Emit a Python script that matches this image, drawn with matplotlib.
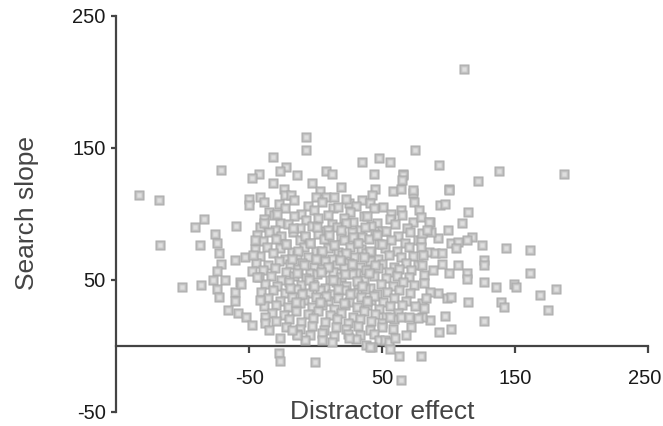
import matplotlib
matplotlib.use("Agg")
import matplotlib.pyplot as plt
import matplotlib.transforms as mtransforms

# ---------------- data ----------------
# dense core, row by row
core_x = [
    -28, -16, -6, 5, 13, 23, 30, 41, 51,
    -35, -23, -11, -1, 9, 17, 26, 36, 44, 57, 64,
    -39, -27, -16, -7, 2, 12, 21, 28, 39, 46, 56, 65, 73,
    -42, -31, -21, -12, -3, 6, 16, 23, 33, 42, 50, 60, 69,
    -44, -35, -26, -17, -8, 2, 9, 19, 27, 35, 45, 53, 62, 71,
    -40, -30, -22, -12, -4, 6, 14, 21, 31, 40, 48, 57, 67, 77,
    -46, -37, -27, -18, -9, 0, 9, 17, 26, 34, 42, 52, 61, 70,
    -42, -32, -23, -14, -6, 4, 12, 20, 29, 38, 47, 55, 64, 73,
    -45, -36, -28, -19, -10, -1, 7, 16, 25, 33, 41, 50, 59, 68, 77,
    -40, -31, -22, -13, -4, 5, 13, 21, 30, 38, 47, 55, 63, 72,
    -43, -34, -26, -16, -7, 1, 11, 19, 27, 36, 44, 53, 61, 70,
    -38, -29, -20, -11, -2, 7, 15, 23, 32, 41, 49, 58, 66, 74,
    -41, -32, -23, -15, -5, 3, 12, 21, 29, 37, 46, 54, 63, 71,
    -36, -27, -18, -9, 0, 9, 17, 25, 34, 42, 51, 59, 68,
    -39, -30, -21, -12, -3, 5, 14, 22, 31, 39, 48, 56, 65,
    -33, -24, -15, -6, 2, 11, 19, 28, 36, 45, 53, 62,
    -30, -20, -11, -2, 7, 16, 24, 33, 42, 50, 59,
    -22, -12, -3, 6, 15, 23, 32, 41, 50, 58,
    -14, -4, 5, 14, 24, 33, 44,
    -8, 12, 30, 48,
    -17, 1, 19, 37, -8, 10, 28, 46, -22, -4, 14, 32, 50, -13, 5, 23, 41,
    -18, 0, 18, 36, -9, 9, 27, 45, -14, 4, 22, 40,
    -5, 13, 31, -19, -1, 17, 35, -10, 8, 26, 44, -15, 3, 21, 39,
]
core_y = [
    107, 110, 106, 109, 104, 111, 106, 108, 105,
    101, 104, 100, 103, 99, 105, 101, 98, 104, 100, 103,
    96, 93, 98, 95, 97, 92, 97, 94, 98, 93, 96, 99, 94,
    90, 88, 92, 89, 91, 87, 90, 93, 88, 91, 87, 92, 89,
    84, 86, 83, 86, 82, 85, 88, 83, 86, 82, 85, 87, 83, 86,
    79, 81, 77, 80, 78, 81, 76, 80, 78, 81, 77, 80, 78, 80,
    73, 75, 74, 71, 75, 72, 74, 71, 75, 73, 71, 74, 72, 75,
    68, 70, 66, 69, 67, 70, 66, 69, 67, 70, 66, 69, 67, 68,
    63, 61, 64, 62, 63, 60, 64, 61, 63, 60, 64, 62, 60, 63, 61,
    57, 59, 56, 58, 55, 58, 56, 59, 55, 57, 59, 56, 58, 57,
    52, 53, 50, 53, 51, 54, 50, 52, 54, 50, 53, 51, 53, 52,
    47, 45, 48, 46, 47, 44, 48, 45, 47, 44, 47, 45, 48, 46,
    41, 42, 40, 43, 40, 42, 39, 42, 40, 43, 39, 41, 42, 40,
    36, 34, 37, 35, 37, 34, 36, 33, 37, 35, 33, 36, 34,
    30, 31, 29, 32, 29, 31, 28, 31, 29, 31, 28, 30, 31,
    25, 23, 26, 24, 26, 23, 25, 22, 26, 24, 22, 25,
    19, 20, 18, 21, 18, 20, 17, 20, 19, 17, 20,
    14, 13, 15, 12, 14, 13, 15, 12, 14, 13,
    9, 8, 10, 7, 9, 8, 9,
    4, 3, 5, 4,
    89, 90, 88, 90, 83, 84, 82, 84, 77, 78, 76, 78, 77, 72, 72, 70, 72,
    66, 66, 65, 67, 61, 60, 62, 61, 55, 56, 54, 55,
    50, 50, 49, 44, 45, 43, 45, 39, 38, 39, 38, 33, 33, 32, 34,
]

# scattered points around the core
outer_x = [
    112, 74.5, 48, 56, 93, 44, 66, 138, 187, 122, 100, 45, 58, 64.5, 73,
    -7, -7, -32, -71, 35, -22, -27, -14, -43, -48, 8, 12, -32, -2.5, 19,
    -24, 3.6, -133, -118, -50, -42, -23, -18.5, 0, 7.6, 13.6, 35, 42.6,
    -50, -38.7, 25,
    -84, -91, -117, -87.5, -76, -74.4, -73, -60, -71, -74, -77, -68, -86,
    -101, -74, -73, -61, -61, -66, -58.5, -52.5, -48, -57, -56, -61, -53,
    -47, -48, -44, -42, -38, -38, -35, -27, -28, -26.6, -0.4, -14, -18, 5,
    25, 37.5, 42.6, -46, -39, -31.7, -29,
    115, 110.5, 99.7, 93.6, 97, 86, 118, 114, 125, 143, 161, 101.7, 107,
    106, 92.4, 127, 127, 107, 100.4, 114, 114, 161, 127, 136, 149.5, 151,
    181, 169, 175, 139.4, 141.5, 115, 127, 97, 102, 92.6, 86, 80, 77, 63,
    79, 64.5, 52, 55, 56, 41, 99, 92, 102, 80, 81.5, 81.5, 81.5, 80, 85,
    90, 95, 95, 79, 79, 81, 74, 73.5, 100, 56, 64, 70,
    66, 65, 78, 79, 85, 87, 80, 84, 88, 86, 75, 83, 72, 68, 60,
]
outer_y = [
    210, 148.5, 142, 139, 137, 130, 130, 132, 130, 125, 119, 118.5, 117, 119, 115.5,
    158, 148.5, 143, 133, 139, 135, 132, 129, 130, 127, 132, 130, 123.5, 123.5, 120.5,
    119, 117, 114, 110, 111, 113, 114, 114, 113, 113, 113, 110, 114,
    106.6, 109, 108,
    96, 90, 76, 76, 84.6, 78, 70, 91, 62, 56.4, 50, 50, 46,
    44.7, 43, 36.7, 41, 33.6, 27, 25, 21.5, 15.5, 48.5, 47, 65, 67.4,
    68.7, 56.6, 52.3, 34.6, 22, 17, 12, 5.6, -5.8, -11.4, -12.3, 8, 12, 4.3,
    5.6, 0.5, -0.8, 80, 92.7, 99, 100,
    101, 92.7, 87.7, 106.6, 107.3, 94, 82.6, 80, 76.3, 74.2, 72.5, 77.6, 78.8,
    73.8, 81.4, 65, 61, 61, 54.8, 54.8, 50.3, 54.8, 48.5, 44.7, 46.5, 44.7,
    43.2, 38.4, 27, 33.3, 29, 33.3, 18.7, 22.5, 12.4, 10.6, 19.5, 22, 20.8, -7.6,
    -7.6, -26, 4.3, 3, -2.7, -0.8, 36, 39.7, 36.7, 32, 28.3, 53.6, 47.3, 61, 71,
    70, 70, 62, 80, 75, 69, 109, 118, 118, 22, 22, 22,
    129, 125.5, 102.8, 97.7, 94, 86.4, 85.2, 88, 57, 41, 30, 36, 14, 8, 6,
]

distractor_effect = outer_x[:48] + core_x + outer_x[48:]
search_slope = outer_y[:48] + core_y + outer_y[48:]

x_ticks = [-50, 50, 150, 250]
y_ticks = [-50, 50, 150, 250]

# ---------------- figure ----------------
plt.rcParams['font.family'] = ['Liberation Sans', 'DejaVu Sans']
fig = plt.figure(figsize=(6.63, 4.26), dpi=100)
ax = fig.add_axes([116.5 / 663, 1 - 411.7 / 426, 531.2 / 663, 396 / 426])
ax.set_xlim(-150, 250)
ax.set_ylim(-50, 250)

# bevelled grey square markers: layered squares per point
layers = [(7.4, '#ababab'), (5.6, '#bbbbbb'), (3.9, '#cccccc'), (2.2, '#dedede')]
for i, (xv, yv) in enumerate(zip(distractor_effect, search_slope)):
    for j, (ms, col) in enumerate(layers):
        ax.plot([xv], [yv], marker='s', ms=ms, mfc=col, mec='none',
                linestyle='none', zorder=3 + i * 0.001 + j * 0.0001,
                clip_on=False)

spine_col = '#444444'
for s in ['top', 'right']:
    ax.spines[s].set_visible(False)
ax.spines['bottom'].set_position(('data', 0))
ax.spines['bottom'].set_color(spine_col)
ax.spines['left'].set_color(spine_col)
ax.spines['bottom'].set_linewidth(1.6)
ax.spines['left'].set_linewidth(1.6)
ax.spines['bottom'].set_zorder(2)

ax.set_xticks(x_ticks)
ax.set_yticks(y_ticks)
ax.set_xticklabels([str(v) for v in x_ticks])
ax.set_yticklabels([str(v) for v in y_ticks])
ax.tick_params(axis='x', direction='out', length=5, width=1.6, color=spine_col,
               labelsize=14.5, pad=12, labelcolor='#1a1a1a')
ax.tick_params(axis='y', direction='out', length=3.8, width=1.6, color=spine_col,
               labelsize=14.5, pad=4, labelcolor='#1a1a1a')

# keep the last x tick label inside the figure
last = ax.get_xticklabels()[-1]
last.set_transform(last.get_transform() +
                   mtransforms.ScaledTranslation(-3 / 100, 0, fig.dpi_scale_trans))

fig.text(382 / 663, 1 - 419 / 426, 'Distractor effect', ha='center', va='baseline',
         fontsize=19, color='#444444')
fig.text(27 / 663, 1 - 213 / 426, 'Search slope', ha='center', va='center',
         rotation=90, fontsize=19, color='#444444')

fig.savefig('out.png', dpi=100)
